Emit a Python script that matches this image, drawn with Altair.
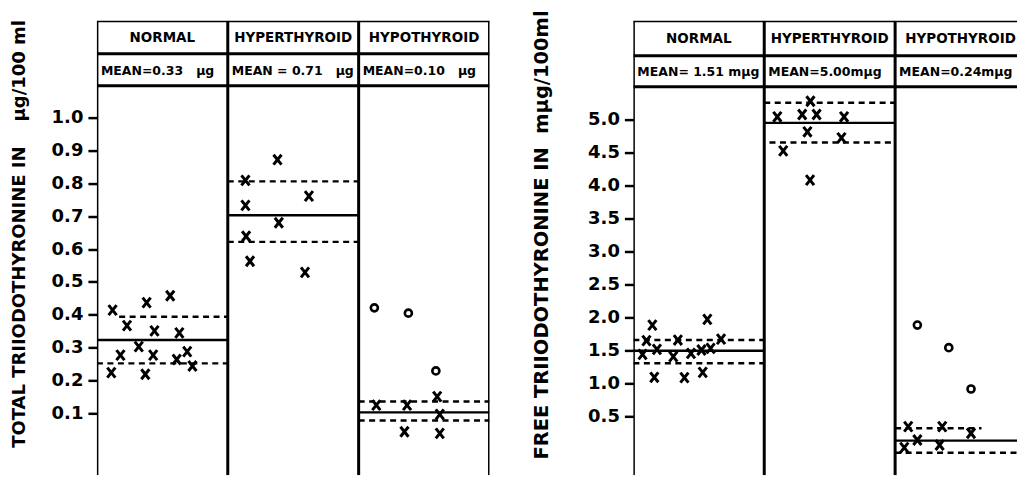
import altair as alt
import pandas as pd

# ---------------- data ----------------
NB = "\u00a0"
groups = ["NORMAL", "HYPERTHYROID", "HYPOTHYROID"]
left_mean_labels = ["MEAN=0.33" + NB * 3 + "\u00b5g", "MEAN" + NB + "=" + NB + "0.71" + NB * 3 + "\u00b5g",
                    "MEAN=0.10" + NB * 3 + "\u00b5g"]
right_mean_labels = ["MEAN=" + NB + "1.51" + NB + "m\u00b5g", "MEAN=5.00m\u00b5g", "MEAN=0.24m\u00b5g"]

left_ticks = [0.1, 0.2, 0.3, 0.4, 0.5, 0.6, 0.7, 0.8, 0.9, 1.0]
right_ticks = [0.5, 1.0, 1.5, 2.0, 2.5, 3.0, 3.5, 4.0, 4.5, 5.0]

# Total T3 (left panel): position across the three columns, value, symbol
left_pos = [0.12, 0.38, 0.56, 0.23, 0.44, 0.63, 0.32, 0.18, 0.43, 0.61, 0.69, 0.73, 0.11, 0.37,
            1.38, 1.135, 1.62, 1.135, 1.39, 1.14, 1.17, 1.59,
            2.12, 2.38, 2.59,
            2.135, 2.37, 2.60, 2.62, 2.35, 2.62]
left_val = [0.414, 0.437, 0.458, 0.367, 0.351, 0.345, 0.303, 0.277, 0.277, 0.264, 0.288, 0.244, 0.224, 0.219,
            0.872, 0.809, 0.761, 0.733, 0.680, 0.639, 0.563, 0.529,
            0.421, 0.405, 0.229,
            0.125, 0.125, 0.151, 0.097, 0.044, 0.039]
left_sym = ["x"] * 22 + ["o"] * 3 + ["x"] * 6

left_mean = [0.323, 0.703, 0.103]
left_upper = [0.394, 0.806, 0.136]
left_lower = [0.252, 0.622, 0.078]
left_upper_from = [0.17, 1.0, 2.0]
left_upper_to = [1.0, 2.0, 3.0]
left_lower_from = [0.0, 1.0, 2.0]
left_lower_to = [1.0, 2.0, 3.0]

# Free T3 (right panel)
right_pos = [0.145, 0.565, 0.10, 0.34, 0.67, 0.07, 0.18, 0.305, 0.44, 0.52, 0.59, 0.16, 0.39, 0.53,
             1.353, 1.10, 1.29, 1.40, 1.61, 1.33, 1.59, 1.145, 1.35,
             2.17, 2.41, 2.58,
             2.10, 2.36, 2.58, 2.07, 2.17, 2.34]
right_val = [1.882, 1.968, 1.646, 1.655, 1.670, 1.439, 1.514, 1.404, 1.454, 1.504, 1.530, 1.091, 1.086, 1.166,
             5.271, 5.035, 5.070, 5.070, 5.035, 4.808, 4.717, 4.520, 4.076,
             1.882, 1.540, 0.914,
             0.345, 0.345, 0.244, 0.027, 0.142, 0.067]
right_sym = ["x"] * 23 + ["o"] * 3 + ["x"] * 6

right_mean = [1.494, 4.944, 0.133]
right_upper = [1.655, 5.247, 0.319]
right_lower = [1.303, 4.646, -0.05]
right_upper_from = [0.0, 1.0, 2.0]
right_upper_to = [1.0, 2.0, 2.66]
right_lower_from = [0.0, 1.04, 2.0]
right_lower_to = [1.0, 1.97, 3.0]

# ---------------- styling ----------------
FONT = "DejaVu Sans"
COL_W = 131
PLOT_H = 455
X_PATH = "M-0.8,-1L0.8,1M0.8,-1L-0.8,1"


def panel(pos, val, sym, mean, upper, lower, u_from, u_to, l_from, l_to,
          heads, means, ticks, ydom, xmax, title, title_size, title_x, title_y, div1, div2, width):
    pts = pd.DataFrame({"x": pos, "y": val, "sym": sym})
    cols = pd.DataFrame({"x": [0, 1, 2, 3]})
    hdr = pd.DataFrame({"x": [0.5, 1.5, 2.5], "x0": [0, 1, 2], "group": heads, "mean": means})
    mline = pd.DataFrame({"x": [0, 1, 2], "x2": [1, 2, 3], "y": mean})
    dline = pd.DataFrame({"x": u_from + l_from, "x2": u_to + l_to, "y": upper + lower})

    xs = alt.Scale(domain=[0, xmax], nice=False, zero=False)
    ys = alt.Scale(domain=ydom, nice=False, zero=False)
    xenc = alt.X("x:Q", scale=xs, axis=None)

    yaxis = alt.Axis(values=ticks, format=".1f", title=title, domain=False, grid=False,
                     labelFont=FONT, labelFontSize=18, labelFontWeight="bold", labelColor="black",
                     labelPadding=5, tickColor="black", tickWidth=2.5, tickSize=9,
                     titleFont=FONT, titleFontSize=title_size, titleFontWeight="bold", titleColor="black",
                     titleAngle=-90, titleX=title_x, titleY=title_y, titleAlign="center",
                     titleBaseline="middle")

    base = alt.Chart(pts).encode(
        x=xenc, y=alt.Y("y:Q", scale=ys, axis=yaxis))

    crosses = base.transform_filter(alt.datum.sym == "x").mark_point(
        shape=X_PATH, filled=False, size=100, strokeWidth=3, color="black", opacity=1, clip=True)
    circles = base.transform_filter(alt.datum.sym == "o").mark_point(
        shape="circle", filled=False, size=50, strokeWidth=2.6, color="black", opacity=1, clip=True)

    means_l = alt.Chart(mline).mark_rule(color="black", strokeWidth=2.4, clip=True).encode(
        x=xenc, x2="x2:Q", y=alt.Y("y:Q", scale=ys))
    dash_l = alt.Chart(dline).mark_rule(color="black", strokeWidth=2.4, strokeDash=[6, 4.5],
                                        clip=True).encode(
        x=xenc, x2="x2:Q", y=alt.Y("y:Q", scale=ys))

    vlines = alt.Chart(cols).mark_rule(color="black", strokeWidth=3, clip=True).encode(
        x=xenc, y=alt.value(0), y2=alt.value(PLOT_H))
    hlines = alt.Chart(pd.DataFrame({"k": [0, div1, div2]})).mark_rule(
        color="black", strokeWidth=3, clip=True).encode(
        x=alt.value(0), x2=alt.value(width), y=alt.Y("k:Q", scale=None))

    htext = alt.Chart(hdr).mark_text(font=FONT, fontSize=13.5, fontWeight="bold", color="black",
                                     baseline="middle", clip=True).encode(
        x=xenc, y=alt.value(div1 / 2 + 1), text="group:N")
    mtext = alt.Chart(hdr).mark_text(font=FONT, fontSize=12.5, fontWeight="bold", color="black",
                                     baseline="middle", align="left", dx=4, clip=True).encode(
        x=alt.X("x0:Q", scale=xs, axis=None), y=alt.value((div1 + div2) / 2 + 1), text="mean:N")

    return alt.layer(dash_l, means_l, crosses, circles, vlines, hlines, htext, mtext).properties(
        width=width, height=PLOT_H)


left = panel(left_pos, left_val, left_sym, left_mean, left_upper, left_lower,
             left_upper_from, left_upper_to, left_lower_from, left_lower_to,
             groups, left_mean_labels, left_ticks, [-0.0885, 1.295], 3.0,
             "TOTAL TRIIODOTHYRONINE IN" + NB * 4 + "\u00b5g/100 ml", 18, -77, 213, 33, 65, 3 * COL_W)

right = panel(right_pos, right_val, right_sym, right_mean, right_upper, right_lower,
              right_upper_from, right_upper_to, right_lower_from, right_lower_to,
              groups, right_mean_labels, right_ticks, [-0.392, 6.49], 384 / COL_W,
              "FREE TRIIODOTHYRONINE IN" + NB * 2 + "m\u00b5g/100ml", 19.5, -92, 214, 35, 66, 384)

chart = alt.hconcat(left, right, spacing=41).properties(
    padding={"left": 10, "top": 9.5, "right": 0, "bottom": 0},
    background="white",
).configure_view(strokeWidth=0)

chart.save("out.html", embed_options={"renderer": "svg", "actions": False})
